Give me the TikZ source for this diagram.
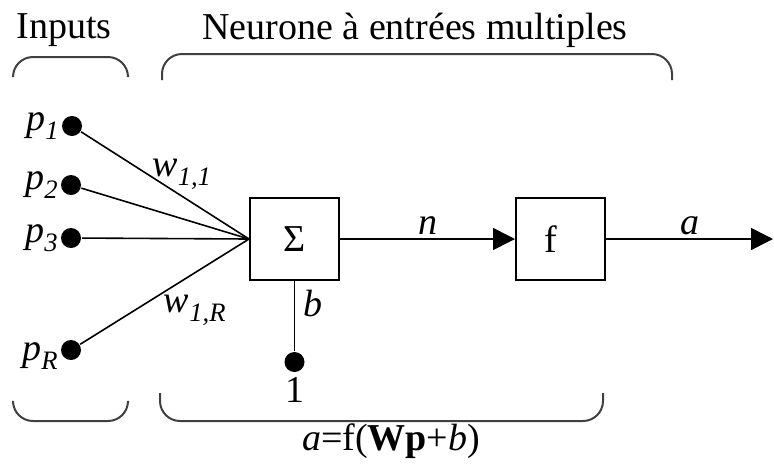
\documentclass[tikz,border=0pt]{standalone}
\usepackage{fontspec}
\setmainfont{Liberation Serif}
\usetikzlibrary{arrows.meta,positioning}

\begin{document}
\begin{tikzpicture}[x=1pt,y=-1pt,line width=1.6pt,>={Triangle[length=22pt,width=22pt]},
  every node/.style={font=\fontsize{38}{44}\selectfont},
  entree/.style={circle,fill=black,inner sep=0pt,minimum size=20pt},
  bloc/.style={draw,line width=2pt,minimum width=89pt,minimum height=82pt,inner sep=0pt},
  accolade/.style={draw=black!75,line width=2pt,rounded corners=20pt}]
  \useasboundingbox (0,0) rectangle (774,467);
  % titres
  \node (tin) at (64,30) {Inputs};
  \node (tneur) at (415,30) {Neurone à entrées multiples};
  \draw[accolade] (13,75)--(13,57)--(128,57)--(128,75);
  \draw[accolade] (162,80)--(162,54)--(672,54)--(672,80);
  % entrees p_i
  \node[entree] (p1) at (72,126) {};
  \node[entree] (p2) at (71,185) {};
  \node[entree] (p3) at (71,238) {};
  \node[entree] (pR) at (71,350) {};
  \node[left=-2pt of p1] (lp1) {\textit{p}\textsubscript{\textit{1}}};
  \node[left=-2pt of p2] (lp2) {\textit{p}\textsubscript{\textit{2}}};
  \node[left=-2pt of p3] (lp3) {\textit{p}\textsubscript{\textit{3}}};
  \node[left=-2pt of pR,yshift=-6pt] (lpR) {\textit{p}\textsubscript{\textit{R}}};
  % somme et fonction
  \node[bloc] (sum) at (294.5,239) {Σ};
  \node[bloc] (fct) at (560.5,239) {\hspace*{-20pt}f};
  \coordinate (out) at (773,239);
  \foreach \p in {p1,p2,p3,pR} \draw (\p) -- (sum.west);
  \node (w11) at (182,174) {\textit{w}\textsubscript{\textit{1,1}}};
  \node (w1R) at (195,310) {\textit{w}\textsubscript{\textit{1,R}}};
  \draw[->] (sum.east) -- (fct.west) node[midway,above] (ln) {\textit{n}};
  \draw[->] (fct.east) -- (out) node[midway,above] (la) {\textit{a}};
  % biais
  \node[entree] (un) at (294.5,362) {};
  \draw (sum.south) -- (un);
  \node (lb) at (313,303) {\textit{b}};
  \node[below=0pt of un] (lun) {1};
  \draw[accolade] (13,403)--(13,421)--(128,421)--(128,403);
  \draw[accolade] (160,393)--(160,421)--(603,421)--(603,393);
  \node (eq) at (391,441) {\textit{a}=f(\textbf{Wp}+\textit{b})};
\end{tikzpicture}
\end{document}
